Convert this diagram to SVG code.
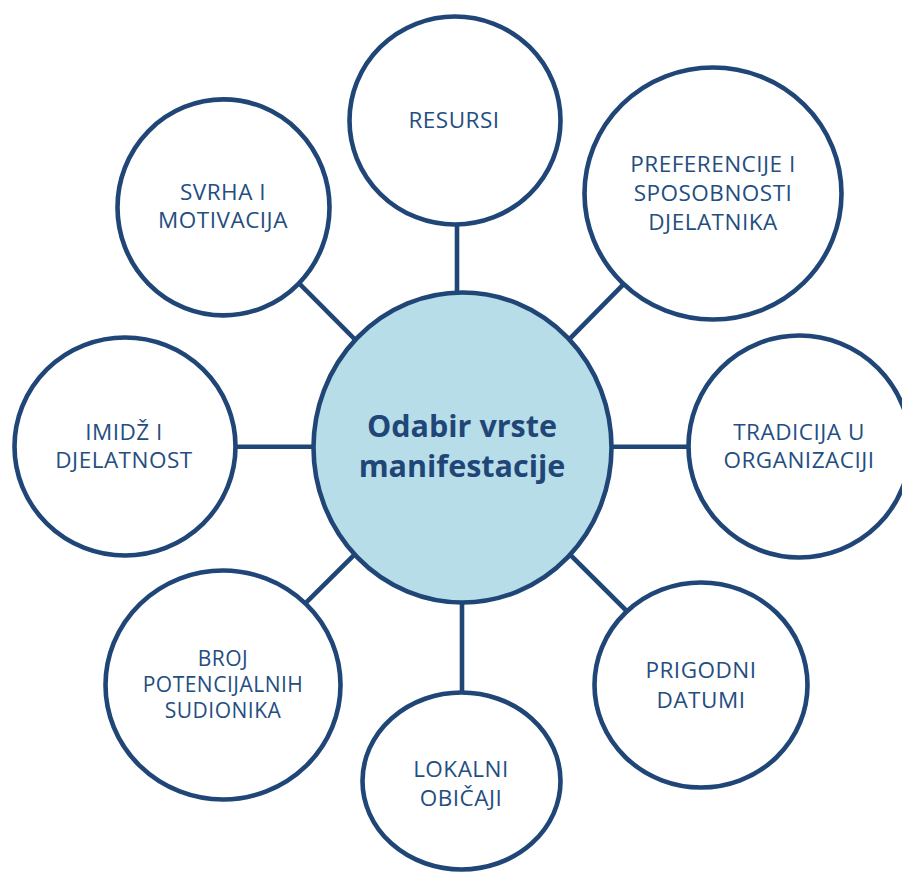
<svg xmlns="http://www.w3.org/2000/svg" width="902" height="873" viewBox="0 0 902 873">
<style>
.c{fill:#ffffff;stroke:#1f4677;stroke-width:4.6}
.m{fill:#b7dde8;stroke:#1f4677;stroke-width:4.6}
.l{stroke:#1f4677;stroke-width:4.6;fill:none}
.t{font-family:"Open Sans","Noto Sans",sans-serif;font-size:22.5px;fill:#244e80;text-anchor:middle;letter-spacing:0.5px}
.s{font-size:21px}
.b{font-family:"Open Sans","Noto Sans",sans-serif;font-size:30.5px;font-weight:bold;fill:#1f4677;text-anchor:middle}
</style>
<rect width="902" height="873" fill="#ffffff"/>
<g id="connectors">
<line class="l" x1="457" y1="200" x2="457" y2="320"/>
<line class="l" x1="713" y1="193.5" x2="462.5" y2="447.5"/>
<line class="l" x1="560" y1="446.7" x2="760" y2="446.7"/>
<line class="l" x1="701" y1="685" x2="462.5" y2="447.5"/>
<line class="l" x1="462" y1="560" x2="462" y2="720"/>
<line class="l" x1="223" y1="685" x2="462.5" y2="447.5"/>
<line class="l" x1="160" y1="446.7" x2="360" y2="446.7"/>
<line class="l" x1="223.5" y1="207.4" x2="462.5" y2="447.5"/>
</g>
<g id="center">
<ellipse class="m" cx="462.5" cy="447.5" rx="149" ry="155"/>
<text class="b" x="462" y="437">Odabir vrste</text>
<text class="b" x="462" y="477">manifestacije</text>
</g>
<g id="resursi">
<ellipse class="c" cx="455" cy="120.5" rx="105.5" ry="104"/>
<text class="t" x="454" y="128">RESURSI</text>
</g>
<g id="preferencije">
<ellipse class="c" cx="713" cy="193.5" rx="128.5" ry="126"/>
<text class="t" x="713" y="172">PREFERENCIJE I</text>
<text class="t" x="713" y="201">SPOSOBNOSTI</text>
<text class="t" x="713" y="230">DJELATNIKA</text>
</g>
<g id="tradicija">
<ellipse class="c" cx="799.5" cy="446.5" rx="111" ry="111"/>
<text class="t" x="799" y="440">TRADICIJA U</text>
<text class="t" x="799" y="468">ORGANIZACIJI</text>
</g>
<g id="prigodni">
<ellipse class="c" cx="701" cy="685" rx="106.5" ry="102.5"/>
<text class="t" x="701" y="678">PRIGODNI</text>
<text class="t" x="701" y="708">DATUMI</text>
</g>
<g id="lokalni">
<ellipse class="c" cx="461.5" cy="781" rx="99" ry="88.5"/>
<text class="t" x="461" y="777">LOKALNI</text>
<text class="t" x="461" y="806">OBIČAJI</text>
</g>
<g id="broj">
<ellipse class="c" cx="223" cy="685" rx="117.5" ry="114.5"/>
<text class="t s" x="223" y="666">BROJ</text>
<text class="t s" x="223" y="692">POTENCIJALNIH</text>
<text class="t s" x="223" y="718">SUDIONIKA</text>
</g>
<g id="imidz">
<ellipse class="c" cx="125" cy="446.5" rx="110.5" ry="109"/>
<text class="t" x="124" y="440">IMIDŽ I</text>
<text class="t" x="124" y="468">DJELATNOST</text>
</g>
<g id="svrha">
<ellipse class="c" cx="223.5" cy="207.4" rx="106" ry="108"/>
<text class="t" x="223" y="200">SVRHA I</text>
<text class="t" x="223" y="228">MOTIVACIJA</text>
</g>
</svg>
